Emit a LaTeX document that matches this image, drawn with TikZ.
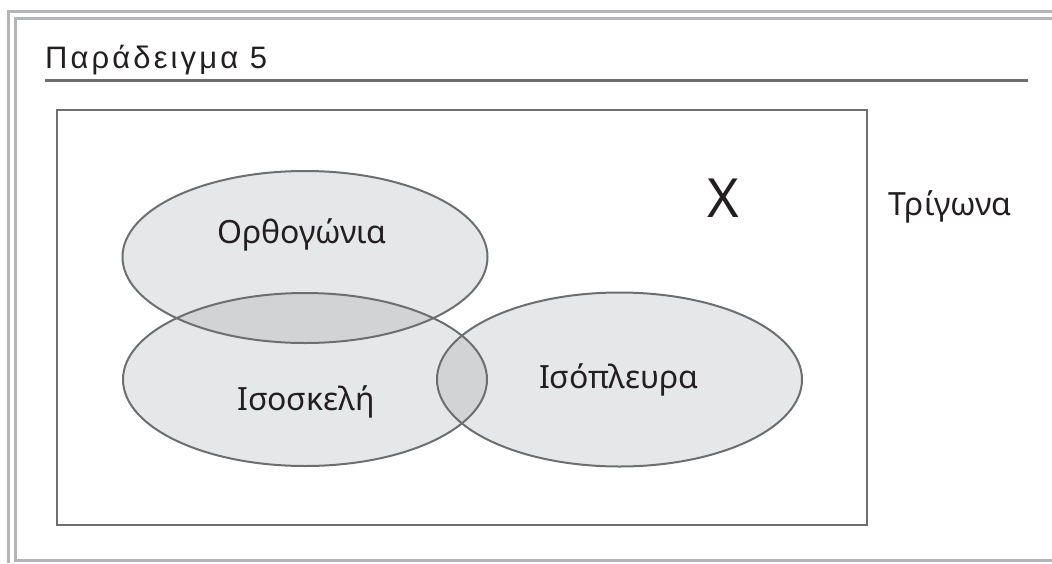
\documentclass[tikz,border=0pt]{standalone}
\usepackage{fontspec}
\setmainfont{Liberation Sans}
\newfontfamily\handfont{Noto Sans}
\newfontfamily\titlefont[LetterSpace=10]{Liberation Sans}
\definecolor{figframegray}{HTML}{B3B5B8}
\definecolor{figlinegray}{HTML}{6D6E70}
\definecolor{figsetfill}{HTML}{E6E7E8}
\definecolor{figoverlap}{HTML}{D1D3D4}
\definecolor{figink}{HTML}{231F20}
\begin{document}
\begin{tikzpicture}[x=1pt,y=-1pt,every node/.style={font=\handfont\fontsize{32}{38}\selectfont,text=figink,inner sep=0pt}]
\useasboundingbox (0,0) rectangle (1052,563);
% frame
\draw[figframegray,line width=3pt] (8.5,563)--(8.5,11)--(1052,11);
\draw[figframegray,line width=3pt] (1052,18)--(15.5,18)--(15.5,560)--(1052,560);
\node[anchor=base west,font=\titlefont\fontsize{31}{36}\selectfont] (title) at (45,68) {Παράδειγμα 5};
\draw[figlinegray,line width=3pt] (45,80)--(1028,80);
\draw[figlinegray,line width=2.5pt] (57,110) rectangle (867,525);
% sets
\fill[figsetfill] (305,257) ellipse [x radius=182.5,y radius=86];
\fill[figsetfill] (305,379.5) ellipse [x radius=182,y radius=86.5];
\fill[figsetfill] (619.5,379.5) ellipse [x radius=182.5,y radius=87];
\begin{scope}
\clip (305,379.5) ellipse [x radius=182,y radius=86.5];
\fill[figoverlap] (305,257) ellipse [x radius=182.5,y radius=86];
\fill[figoverlap] (619.5,379.5) ellipse [x radius=182.5,y radius=87];
\end{scope}
\draw[figlinegray,line width=2pt] (305,257) ellipse [x radius=182.5,y radius=86];
\draw[figlinegray,line width=2pt] (305,379.5) ellipse [x radius=182,y radius=86.5];
\draw[figlinegray,line width=2pt] (619.5,379.5) ellipse [x radius=182.5,y radius=87];
\node[anchor=base] (orth) at (302,243) {Ορθογώνια};
\node[anchor=base] (isosk) at (306,410) {Ισοσκελή};
\node[anchor=base] (isopl) at (619,388) {Ισόπλευρα};
\node[anchor=base,font=\handfont\fontsize{54}{60}\selectfont] (cross) at (723,217) {X};
\node[anchor=base] (trig) at (950,215) {Τρίγωνα};
\end{tikzpicture}
\end{document}
